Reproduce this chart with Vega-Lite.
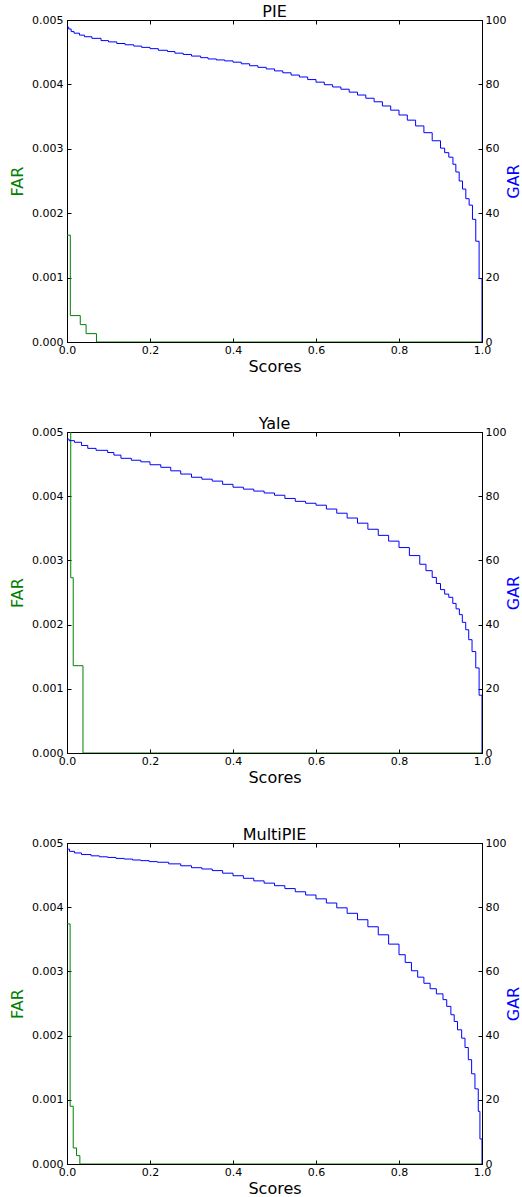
{
  "$schema": "https://vega.github.io/schema/vega-lite/v6.json",
  "padding": {"left": 9, "top": 3, "right": 0, "bottom": 0},
  "spacing": 40,
  "datasets": {
    "pie_far": [{"score":0,"value":0.00166},{"score":0.008,"value":0.00041},{"score":0.032,"value":0.00027},{"score":0.046,"value":0.00013},{"score":0.071,"value":0},{"score":1,"value":0}],
    "yale_far": [{"score":0,"value":0.006},{"score":0.009,"value":0.00273},{"score":0.015,"value":0.00136},{"score":0.0385,"value":0},{"score":1,"value":0}],
    "multi_far": [{"score":0,"value":0.00374},{"score":0.0075,"value":0.0009},{"score":0.015,"value":0.00025},{"score":0.023,"value":0.00013},{"score":0.031,"value":0},{"score":1,"value":0}],
    "pie_gar": [{"score":0,"value":97.8},{"score":0.004,"value":97.2},{"score":0.01,"value":96.4},{"score":0.017,"value":95.9},{"score":0.03,"value":95.3},{"score":0.042,"value":94.8},{"score":0.06,"value":94.3},{"score":0.082,"value":93.6},{"score":0.1,"value":93.2},{"score":0.12,"value":92.7},{"score":0.14,"value":92.3},{"score":0.161,"value":91.9},{"score":0.18,"value":91.5},{"score":0.2,"value":91.1},{"score":0.22,"value":90.6},{"score":0.242,"value":90.2},{"score":0.26,"value":89.7},{"score":0.28,"value":89.3},{"score":0.3,"value":88.8},{"score":0.322,"value":88.3},{"score":0.34,"value":87.9},{"score":0.36,"value":87.6},{"score":0.38,"value":87.3},{"score":0.4,"value":86.9},{"score":0.42,"value":86.4},{"score":0.44,"value":85.8},{"score":0.46,"value":85.3},{"score":0.48,"value":84.8},{"score":0.5,"value":84.2},{"score":0.52,"value":83.6},{"score":0.54,"value":82.9},{"score":0.56,"value":82.3},{"score":0.58,"value":81.5},{"score":0.6,"value":80.7},{"score":0.62,"value":79.9},{"score":0.64,"value":79.2},{"score":0.66,"value":78.5},{"score":0.68,"value":77.6},{"score":0.7,"value":76.7},{"score":0.72,"value":75.7},{"score":0.74,"value":74.6},{"score":0.76,"value":73.3},{"score":0.78,"value":72},{"score":0.8,"value":70.5},{"score":0.82,"value":68.9},{"score":0.84,"value":67.1},{"score":0.86,"value":65},{"score":0.88,"value":62.5},{"score":0.9,"value":60.2},{"score":0.91,"value":58.8},{"score":0.92,"value":57.4},{"score":0.93,"value":55.2},{"score":0.937,"value":52.8},{"score":0.945,"value":50},{"score":0.953,"value":47.5},{"score":0.961,"value":44.5},{"score":0.969,"value":42.5},{"score":0.977,"value":38.1},{"score":0.985,"value":31.3},{"score":0.993,"value":19.7},{"score":1.0,"value":0}],
    "yale_gar": [{"score":0,"value":97.8},{"score":0.005,"value":97.3},{"score":0.018,"value":96.8},{"score":0.035,"value":95.8},{"score":0.05,"value":94.9},{"score":0.07,"value":94.3},{"score":0.098,"value":93.6},{"score":0.113,"value":92.8},{"score":0.13,"value":91.8},{"score":0.155,"value":91.2},{"score":0.178,"value":90.7},{"score":0.2,"value":89.8},{"score":0.226,"value":89},{"score":0.25,"value":87.9},{"score":0.274,"value":86.9},{"score":0.3,"value":85.9},{"score":0.325,"value":85.3},{"score":0.35,"value":84.7},{"score":0.375,"value":83.7},{"score":0.4,"value":82.8},{"score":0.425,"value":82.2},{"score":0.45,"value":81.6},{"score":0.475,"value":81},{"score":0.5,"value":80.3},{"score":0.525,"value":79.3},{"score":0.55,"value":78.4},{"score":0.575,"value":77.8},{"score":0.6,"value":77.2},{"score":0.625,"value":76},{"score":0.65,"value":74.7},{"score":0.675,"value":73.2},{"score":0.7,"value":71.6},{"score":0.725,"value":69.7},{"score":0.75,"value":67.8},{"score":0.775,"value":66},{"score":0.8,"value":64},{"score":0.825,"value":61.5},{"score":0.85,"value":58.8},{"score":0.865,"value":56.8},{"score":0.88,"value":54.7},{"score":0.89,"value":52.8},{"score":0.9,"value":50.9},{"score":0.91,"value":49.5},{"score":0.92,"value":48.5},{"score":0.9296,"value":46.6},{"score":0.9375,"value":44.9},{"score":0.9455,"value":43.1},{"score":0.9526,"value":40.7},{"score":0.9608,"value":38.4},{"score":0.968,"value":35.3},{"score":0.976,"value":31.6},{"score":0.985,"value":26.5},{"score":0.993,"value":18},{"score":1.0,"value":0}],
    "multi_gar": [{"score":0,"value":98.1},{"score":0.006,"value":97.4},{"score":0.018,"value":96.9},{"score":0.035,"value":96.4},{"score":0.058,"value":96},{"score":0.078,"value":95.7},{"score":0.098,"value":95.5},{"score":0.118,"value":95.2},{"score":0.138,"value":95},{"score":0.158,"value":94.7},{"score":0.178,"value":94.5},{"score":0.198,"value":94.2},{"score":0.218,"value":94},{"score":0.245,"value":93.5},{"score":0.274,"value":92.9},{"score":0.3,"value":92.3},{"score":0.325,"value":91.9},{"score":0.35,"value":91.4},{"score":0.375,"value":90.6},{"score":0.4,"value":89.8},{"score":0.425,"value":89},{"score":0.45,"value":88.2},{"score":0.475,"value":87.5},{"score":0.5,"value":86.7},{"score":0.525,"value":85.8},{"score":0.55,"value":84.8},{"score":0.575,"value":83.8},{"score":0.6,"value":82.6},{"score":0.625,"value":81.3},{"score":0.65,"value":79.8},{"score":0.675,"value":78.1},{"score":0.7,"value":76.1},{"score":0.725,"value":73.9},{"score":0.75,"value":71.4},{"score":0.775,"value":68.5},{"score":0.8,"value":65.2},{"score":0.815,"value":62.8},{"score":0.83,"value":60.2},{"score":0.845,"value":58.2},{"score":0.86,"value":56.3},{"score":0.875,"value":54.6},{"score":0.89,"value":53},{"score":0.906,"value":51.2},{"score":0.915,"value":49.1},{"score":0.925,"value":46.5},{"score":0.933,"value":44.4},{"score":0.941,"value":41.8},{"score":0.951,"value":39.2},{"score":0.959,"value":36.3},{"score":0.967,"value":32.5},{"score":0.975,"value":28.1},{"score":0.983,"value":23.4},{"score":0.991,"value":16.4},{"score":0.995,"value":7.8},{"score":1.0,"value":0}]
  },
  "vconcat": [
    {
      "title": "PIE",
      "width": 415, "height": 322,
      "layer": [
        {"data": {"name": "pie_far"}, "mark": {"type": "line", "interpolate": "step-after", "color": "#008000", "strokeWidth": 1, "clip": true},
         "encoding": {
           "x": {"field": "score", "type": "quantitative", "scale": {"domain": [0, 1]}, "axis": {"orient": "bottom", "values": [0,0.2,0.4,0.6,0.8,1], "format": ".1f", "title": "Scores", "labelFlush": false, "labelPadding": 6, "titlePadding": 3}},
           "y": {"field": "value", "type": "quantitative", "scale": {"domain": [0, 0.005]}, "axis": {"values": [0,0.001,0.002,0.003,0.004,0.005], "format": ".3f", "title": "FAR", "titleColor": "#008000", "labelPadding": 8, "titlePadding": 6}}
         }},
        {"data": {"name": "pie_gar"}, "mark": {"type": "line", "interpolate": "step-after", "color": "#0000ff", "strokeWidth": 1, "clip": true},
         "encoding": {
           "x": {"field": "score", "type": "quantitative", "scale": {"domain": [0, 1]}, "axis": {"orient": "top", "values": [0,0.2,0.4,0.6,0.8,1], "labels": false, "title": null, "minExtent": 0, "maxExtent": 0}},
           "y": {"field": "value", "type": "quantitative", "scale": {"domain": [0, 100]}, "axis": {"orient": "right", "values": [0,20,40,60,80,100], "title": "GAR", "titleColor": "#0000ff", "titleAngle": 270, "titleBaseline": "top", "labelPadding": 7, "titlePadding": 0}}
         }}
      ],
      "resolve": {"scale": {"y": "independent"}, "axis": {"x": "independent"}}
    },
    {
      "title": "Yale",
      "width": 415, "height": 321,
      "layer": [
        {"data": {"name": "yale_far"}, "mark": {"type": "line", "interpolate": "step-after", "color": "#008000", "strokeWidth": 1, "clip": true},
         "encoding": {
           "x": {"field": "score", "type": "quantitative", "scale": {"domain": [0, 1]}, "axis": {"orient": "bottom", "values": [0,0.2,0.4,0.6,0.8,1], "format": ".1f", "title": "Scores", "labelFlush": false, "labelPadding": 6, "titlePadding": 3}},
           "y": {"field": "value", "type": "quantitative", "scale": {"domain": [0, 0.005]}, "axis": {"values": [0,0.001,0.002,0.003,0.004,0.005], "format": ".3f", "title": "FAR", "titleColor": "#008000", "labelPadding": 8, "titlePadding": 6}}
         }},
        {"data": {"name": "yale_gar"}, "mark": {"type": "line", "interpolate": "step-after", "color": "#0000ff", "strokeWidth": 1, "clip": true},
         "encoding": {
           "x": {"field": "score", "type": "quantitative", "scale": {"domain": [0, 1]}, "axis": {"orient": "top", "values": [0,0.2,0.4,0.6,0.8,1], "labels": false, "title": null, "minExtent": 0, "maxExtent": 0}},
           "y": {"field": "value", "type": "quantitative", "scale": {"domain": [0, 100]}, "axis": {"orient": "right", "values": [0,20,40,60,80,100], "title": "GAR", "titleColor": "#0000ff", "titleAngle": 270, "titleBaseline": "top", "labelPadding": 7, "titlePadding": 0}}
         }}
      ],
      "resolve": {"scale": {"y": "independent"}, "axis": {"x": "independent"}}
    },
    {
      "title": "MultiPIE",
      "width": 415, "height": 321,
      "layer": [
        {"data": {"name": "multi_far"}, "mark": {"type": "line", "interpolate": "step-after", "color": "#008000", "strokeWidth": 1, "clip": true},
         "encoding": {
           "x": {"field": "score", "type": "quantitative", "scale": {"domain": [0, 1]}, "axis": {"orient": "bottom", "values": [0,0.2,0.4,0.6,0.8,1], "format": ".1f", "title": "Scores", "labelFlush": false, "labelPadding": 6, "titlePadding": 3}},
           "y": {"field": "value", "type": "quantitative", "scale": {"domain": [0, 0.005]}, "axis": {"values": [0,0.001,0.002,0.003,0.004,0.005], "format": ".3f", "title": "FAR", "titleColor": "#008000", "labelPadding": 8, "titlePadding": 6}}
         }},
        {"data": {"name": "multi_gar"}, "mark": {"type": "line", "interpolate": "step-after", "color": "#0000ff", "strokeWidth": 1, "clip": true},
         "encoding": {
           "x": {"field": "score", "type": "quantitative", "scale": {"domain": [0, 1]}, "axis": {"orient": "top", "values": [0,0.2,0.4,0.6,0.8,1], "labels": false, "title": null, "minExtent": 0, "maxExtent": 0}},
           "y": {"field": "value", "type": "quantitative", "scale": {"domain": [0, 100]}, "axis": {"orient": "right", "values": [0,20,40,60,80,100], "title": "GAR", "titleColor": "#0000ff", "titleAngle": 270, "titleBaseline": "top", "labelPadding": 7, "titlePadding": 0}}
         }}
      ],
      "resolve": {"scale": {"y": "independent"}, "axis": {"x": "independent"}}
    }
  ],
  "config": {
    "font": "DejaVu Sans",
    "view": {"stroke": "black", "strokeWidth": 1},
    "axis": {"grid": false, "domainColor": "black", "domainWidth": 1, "tickColor": "black", "tickSize": -4, "labelColor": "black", "labelFontSize": 11, "labelFont": "DejaVu Sans", "titleFont": "DejaVu Sans", "titleFontSize": 16, "titleFontWeight": "normal", "titleColor": "black"},
    "title": {"font": "DejaVu Sans", "fontSize": 16, "fontWeight": "normal", "color": "black", "offset": -6}
  }
}
